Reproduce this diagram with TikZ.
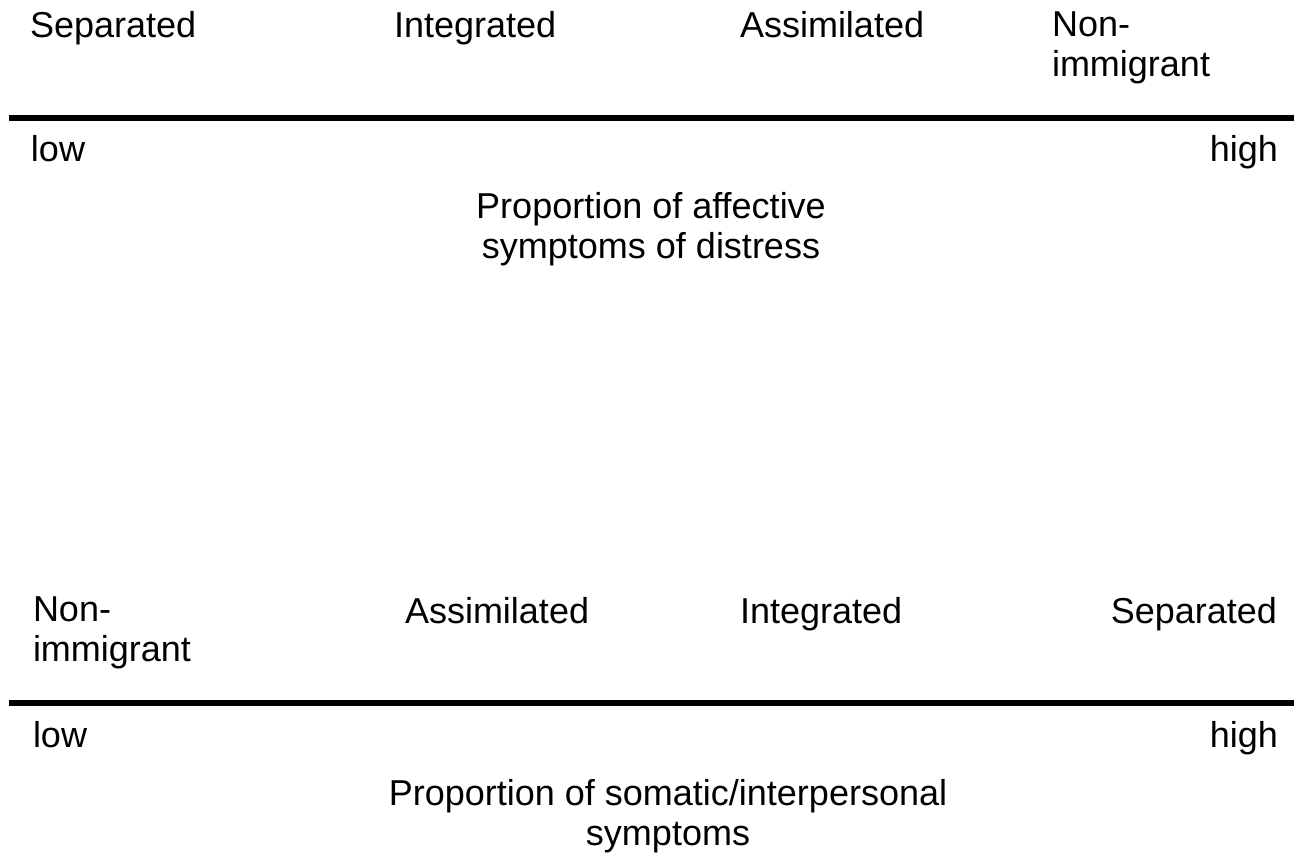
\documentclass[tikz,border=0pt]{standalone}
\usepackage{fontspec}
\setmainfont{Liberation Sans}
\begin{document}
\begin{tikzpicture}[x=0.75pt,y=-0.75pt,
  lbl/.style={inner sep=0pt,outer sep=0pt,font=\fontsize{27}{30}\selectfont},
  twoline/.style={lbl,align=left},
  title/.style={lbl,align=center},
  axisline/.style={line width=4.5pt}]
\useasboundingbox (0,0) rectangle (1294,861);

% ---- upper scale: affective symptoms ----
\node[lbl,anchor=base west] (sepA) at (30,37) {Separated};
\node[lbl,anchor=base west] (intA) at (394,37) {Integrated};
\node[lbl,anchor=base west] (assA) at (740,37) {Assimilated};
\node[twoline,anchor=north west] (nonA) at (1052,12) {Non-\\immigrant};
\coordinate (aL) at (9,118);
\coordinate (aR) at (1294,118);
\draw[axisline] (aL) -- (aR);
\node[lbl,anchor=base west] (lowA) at (31,161) {low};
\node[lbl,anchor=base east] (highA) at (1278,161) {high};
\node[title,anchor=north] (titA) at (651,192) {Proportion of affective\\symptoms of distress};

% ---- lower scale: somatic/interpersonal symptoms ----
\node[twoline,anchor=north west] (nonB) at (33,597) {Non-\\immigrant};
\node[lbl,anchor=base west] (assB) at (405,623) {Assimilated};
\node[lbl,anchor=base west] (intB) at (740,623) {Integrated};
\node[lbl,anchor=base east] (sepB) at (1277,623) {Separated};
\coordinate (bL) at (9,703);
\coordinate (bR) at (1294,703);
\draw[axisline] (bL) -- (bR);
\node[lbl,anchor=base west] (lowB) at (33,747) {low};
\node[lbl,anchor=base east] (highB) at (1278,747) {high};
\node[title,anchor=north] (titB) at (668,779) {Proportion of somatic/interpersonal\\symptoms};
\end{tikzpicture}
\end{document}
